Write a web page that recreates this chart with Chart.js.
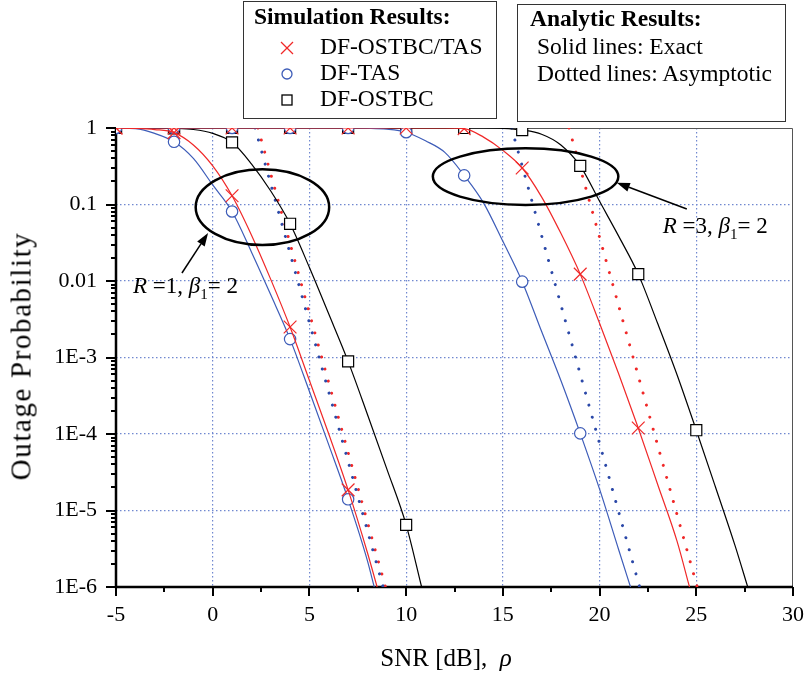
<!DOCTYPE html>
<html>
<head>
<meta charset="utf-8">
<title>Outage probability vs SNR</title>
<script src="https://cdn.jsdelivr.net/npm/chart.js@4.4.1/dist/chart.umd.min.js"></script>
<style>
  body { margin: 0; background: #fff; }
  #wrap { position: relative; width: 808px; height: 678px; font-family: "Liberation Serif", "Times New Roman", serif; color: #000; }
  #chart { position: absolute; left: 0; top: 0; }
  .box { position: absolute; border: 1.5px solid #333; box-sizing: border-box; background: #fff; }
  .t { position: absolute; white-space: nowrap; line-height: 1; font-size: 23.5px; }
  .b { font-weight: bold; }
</style>
</head>
<body>
<div id="wrap">
  <canvas id="chart" width="808" height="678"></canvas>

  <!-- legend boxes -->
  <div class="box" style="left:243px;top:1px;width:254px;height:118px"></div>
  <div class="box" style="left:517px;top:4px;width:269px;height:118px"></div>
  <svg style="position:absolute;left:0;top:0" width="808" height="125">
    <g stroke="#f02828" stroke-width="1.3"><line x1="281" y1="42" x2="293" y2="54"/><line x1="293" y1="42" x2="281" y2="54"/></g>
    <circle cx="287" cy="74" r="5" fill="#fff" stroke="#3d5cb8" stroke-width="1.3"/>
    <rect x="282" y="95" width="10" height="10" fill="#fff" stroke="#000" stroke-width="1.3"/>
  </svg>
  <div class="t b" style="left:254px;top:5.3px">Simulation Results:</div>
  <div class="t" style="left:320px;top:35.3px">DF-OSTBC/TAS</div>
  <div class="t" style="left:320px;top:61.3px">DF-TAS</div>
  <div class="t" style="left:320px;top:87.3px">DF-OSTBC</div>
  <div class="t b" style="left:530px;top:7.3px">Analytic Results:</div>
  <div class="t" style="left:537px;top:35.3px">Solid lines: Exact</div>
  <div class="t" style="left:537px;top:62.3px">Dotted lines: Asymptotic</div>

  <!-- axis titles -->
  <div class="t" style="left:446px;top:645px;font-size:25px;transform:translateX(-50%)">SNR [dB],&nbsp; <i>ρ</i></div>
  <div class="t" style="left:21px;top:356px;font-size:29px;letter-spacing:1.6px;transform:translate(-50%,-50%) rotate(-90deg)">Outage Probability</div>
</div>

<script>
// ---- data ----
// R = 1, exact
const r1TasX = [-5, -4, -3, -2, -1, 0, 1, 2, 3, 4, 5, 6, 7, 8, 8.35];
const r1TasP = [1, 0.98, 0.85, 0.66, 0.40, 0.18, 0.081, 0.024, 6.6e-3, 1.74e-3, 3.6e-4, 7.2e-5, 1.4e-5, 2.2e-6, 1e-6];
const r1OstbcTasX = [-5, -4, -3, -2, -1, 0, 1, 2, 3, 4, 5, 6, 7, 8, 8.5];
const r1OstbcTasP = [1, 0.99, 0.955, 0.87, 0.6, 0.32, 0.13, 0.04, 0.0105, 2.5e-3, 5e-4, 1e-4, 1.86e-5, 2.8e-6, 1e-6];
const r1OstbcX = [-5, -4, -3, -2, -1, 0, 1, 2, 3, 4, 5, 6, 7, 8, 9, 10, 10.8];
const r1OstbcP = [1, 1, 1, 0.99, 0.955, 0.85, 0.65, 0.34, 0.15, 0.056, 0.015, 3.7e-3, 8.9e-4, 1.8e-4, 3.5e-5, 6.5e-6, 1e-6];

// R = 3, exact
const r3TasX = [-5, -2, 1, 4, 7, 8, 9, 10, 11, 12, 13, 14, 15, 16, 17, 18, 19, 20, 21, 21.6];
const r3TasP = [1, 1, 1, 1, 1, 0.993, 0.966, 0.88, 0.68, 0.48, 0.24, 0.105, 0.033, 0.0098, 2.2e-3, 5e-4, 1.02e-4, 1.9e-5, 3e-6, 1e-6];
const r3OstbcTasX = [-5, -2, 1, 4, 7, 10, 12, 13, 14, 15, 16, 17, 18, 19, 20, 21, 22, 23, 24, 24.65];
const r3OstbcTasP = [1, 1, 1, 1, 1, 1, 1, 0.98, 0.76, 0.51, 0.3, 0.126, 0.042, 0.0123, 2.8e-3, 6e-4, 1.2e-4, 2.2e-5, 4e-6, 1e-6];
const r3OstbcX = [-5, -2, 1, 4, 7, 10, 13, 14, 15, 16, 17, 18, 19, 20, 21, 22, 23, 24, 25, 26, 27, 27.66];
const r3OstbcP = [1, 1, 1, 1, 1, 1, 1, 1, 0.99, 0.94, 0.83, 0.6, 0.32, 0.11, 0.038, 0.0123, 2.8e-3, 6e-4, 1.12e-4, 2e-5, 3.5e-6, 1e-6];

// asymptotic (straight on this plot), endpoints at the frame
const r1TasAsyX = [2.19, 8.81];
const r1OstbcTasAsyX = [2.34, 8.93];
const r3TasAsyX = [15.45, 22.07];
const r3OstbcTasAsyX = [18.42, 25.05];
const asyP = [1, 1e-6];

// axes
const X_MIN = -5, X_MAX = 30, X_STEP = 5;
const Y_MIN = 1e-6, Y_MAX = 1;
const yTickLabels = ['1', '0.1', '0.01', '1E-3', '1E-4', '1E-5', '1E-6'];

// annotations (x in dB, y in decades below 1)
const ellipses = [
  {x: 2.57, dec: 1.035, dx: 3.45, ddec: 0.495},
  {x: 16.175, dec: 0.6355, dx: 4.795, ddec: 0.37}
];
const arrows = [
  {x1: -1.59, d1: 1.895, x2: -0.24, d2: 1.373},
  {x1: 24.51, d1: 1.059, x2: 20.89, d2: 0.715}
];
const notes = [
  {x: -4.12, dec: 2.157, r: '1', beta: '2'},
  {x: 23.27, dec: 1.376, r: '3', beta: '2'}
];

const RED = '#f02828', BLUE = '#3d5cb8', BLACK = '#000', GRID = '#7088d0';
const SERIF = '"Liberation Serif", "Times New Roman", serif';

function pts(xs, ps) {
    return xs.map((x, i) => ({x: x, y: ps[i]}));
}

// markers every 3 dB starting at -5
function markRadius(r) {
    return function(ctx) {
        const x = ctx.raw && ctx.raw.x;
        return (Number.isInteger(x) && (x + 5) % 3 === 0) ? r : 0;
    };
}

function exact(xs, ps, color, style, r) {
    return {
        data: pts(xs, ps),
        borderColor: color,
        borderWidth: 1.2,
        cubicInterpolationMode: 'monotone',
        pointStyle: style,
        pointRadius: markRadius(r),
        pointHoverRadius: 0,
        pointBorderColor: color,
        pointBackgroundColor: '#fff',
        pointBorderWidth: 1.2
    };
}

function asym(xs, color) {
    return {
        data: pts(xs, asyP),
        borderColor: color,
        borderWidth: 3,
        borderDash: [0.01, 12.5],
        borderCapStyle: 'round',
        pointRadius: 0
    };
}

function isDecade(v) {
    const e = Math.log10(v);
    return Math.abs(e - Math.round(e)) < 1e-9;
}

// frame + tick marks under the curves, ellipses/arrows/labels on top
const framePlugin = {
    id: 'framePlugin',
    beforeDatasetsDraw(chart) {
        const {ctx, chartArea: a, scales: {x, y}} = chart;
        ctx.save();
        ctx.strokeStyle = '#555';
        ctx.lineWidth = 1;
        ctx.beginPath();
        ctx.moveTo(a.left, a.top + 0.5);
        ctx.lineTo(a.right - 0.5, a.top + 0.5);
        ctx.lineTo(a.right - 0.5, a.bottom);
        ctx.stroke();

        ctx.strokeStyle = '#000';
        ctx.lineWidth = 2.5;
        ctx.beginPath();
        ctx.moveTo(a.left, a.top);
        ctx.lineTo(a.left, a.bottom);
        ctx.lineTo(a.right, a.bottom);
        ctx.stroke();

        ctx.lineWidth = 2;
        ctx.beginPath();
        for (let v = X_MIN; v <= X_MAX; v += 2.5) {
            const px = Math.round(x.getPixelForValue(v));
            const len = (v % 5 === 0) ? 9 : 5;
            ctx.moveTo(px, a.bottom);
            ctx.lineTo(px, a.bottom + len);
        }
        for (let e = -6; e <= 0; e++) {
            for (let m = 1; m <= 9; m++) {
                const v = m * Math.pow(10, e);
                if (v > Y_MAX * 1.0001) break;
                const py = Math.round(y.getPixelForValue(v));
                const len = (m === 1) ? 10 : 5;
                ctx.moveTo(a.left, py);
                ctx.lineTo(a.left - len, py);
            }
        }
        ctx.stroke();
        ctx.restore();
    },
    afterDatasetsDraw(chart) {
        const {ctx, scales: {x, y}} = chart;
        const px = v => x.getPixelForValue(v);
        const py = d => y.getPixelForValue(Math.pow(10, -d));
        ctx.save();
        ctx.strokeStyle = '#000';
        ctx.fillStyle = '#000';

        ctx.lineWidth = 2.5;
        for (const e of ellipses) {
            const cx = px(e.x), cy = py(e.dec);
            const rx = px(e.x + e.dx) - cx, ry = py(e.dec + e.ddec) - cy;
            ctx.beginPath();
            ctx.ellipse(cx, cy, rx, ry, 0, 0, Math.PI * 2);
            ctx.stroke();
        }

        ctx.lineWidth = 1.5;
        for (const ar of arrows) {
            const x1 = px(ar.x1), y1 = py(ar.d1), x2 = px(ar.x2), y2 = py(ar.d2);
            const ang = Math.atan2(y2 - y1, x2 - x1);
            const hl = 13, hw = 4.5;
            const bx = x2 - hl * Math.cos(ang), by = y2 - hl * Math.sin(ang);
            ctx.beginPath();
            ctx.moveTo(x1, y1);
            ctx.lineTo(bx, by);
            ctx.stroke();
            ctx.beginPath();
            ctx.moveTo(x2, y2);
            ctx.lineTo(bx + hw * Math.sin(ang), by - hw * Math.cos(ang));
            ctx.lineTo(bx - hw * Math.sin(ang), by + hw * Math.cos(ang));
            ctx.closePath();
            ctx.fill();
        }

        ctx.textBaseline = 'alphabetic';
        ctx.textAlign = 'left';
        for (const n of notes) {
            let cx = px(n.x);
            const base = py(n.dec);
            const parts = [
                ['italic 23px ' + SERIF, 'R', 0],
                ['23px ' + SERIF, ' =' + n.r + ', ', 0],
                ['italic 23px ' + SERIF, 'β', 0],
                ['15px ' + SERIF, '1', 6],
                ['23px ' + SERIF, '= ' + n.beta, 0]
            ];
            for (const [font, txt, dy] of parts) {
                ctx.font = font;
                ctx.fillText(txt, cx, base + dy);
                cx += ctx.measureText(txt).width;
            }
        }
        ctx.restore();
    }
};

Chart.defaults.font.family = SERIF;
Chart.defaults.color = '#000';

new Chart(document.getElementById('chart'), {
    type: 'line',
    data: {
        datasets: [
            exact(r1OstbcTasX, r1OstbcTasP, RED, 'crossRot', 9),
            exact(r3OstbcTasX, r3OstbcTasP, RED, 'crossRot', 9),
            exact(r1TasX, r1TasP, BLUE, 'circle', 5.7),
            exact(r3TasX, r3TasP, BLUE, 'circle', 5.7),
            exact(r1OstbcX, r1OstbcP, BLACK, 'rect', 7.8),
            exact(r3OstbcX, r3OstbcP, BLACK, 'rect', 7.8),
            asym(r1TasAsyX, '#2b48a8'),
            asym(r1OstbcTasAsyX, RED),
            asym(r3TasAsyX, '#2b48a8'),
            asym(r3OstbcTasAsyX, RED)
        ]
    },
    options: {
        responsive: false,
        animation: false,
        events: [],
        layout: {padding: {top: 128, right: 15, left: 0, bottom: 0}},
        plugins: {legend: {display: false}, tooltip: {enabled: false}},
        scales: {
            x: {
                type: 'linear',
                min: X_MIN,
                max: X_MAX,
                afterFit: s => { s.height = 91; s.paddingLeft = 0; s.paddingRight = 0; },
                ticks: {stepSize: X_STEP, padding: 15, font: {size: 22}, maxRotation: 0},
                grid: {
                    drawTicks: false,
                    lineWidth: 1.2,
                    color: c => (c.tick && c.tick.value > X_MIN && c.tick.value < X_MAX) ? GRID : 'transparent'
                },
                border: {display: false, dash: [1.5, 2.5]}
            },
            y: {
                type: 'logarithmic',
                min: Y_MIN,
                max: Y_MAX,
                afterFit: s => { s.width = 116; s.paddingTop = 0; s.paddingBottom = 0; },
                ticks: {
                    autoSkip: false,
                    padding: 19,
                    font: {size: 22},
                    callback: v => isDecade(v) ? yTickLabels[-Math.round(Math.log10(v))] : ''
                },
                grid: {
                    drawTicks: false,
                    lineWidth: 1.2,
                    color: c => (c.tick && isDecade(c.tick.value) && c.tick.value < Y_MAX && c.tick.value > Y_MIN) ? GRID : 'transparent'
                },
                border: {display: false, dash: [1.5, 2.5]}
            }
        }
    },
    plugins: [framePlugin]
});
</script>
</body>
</html>
